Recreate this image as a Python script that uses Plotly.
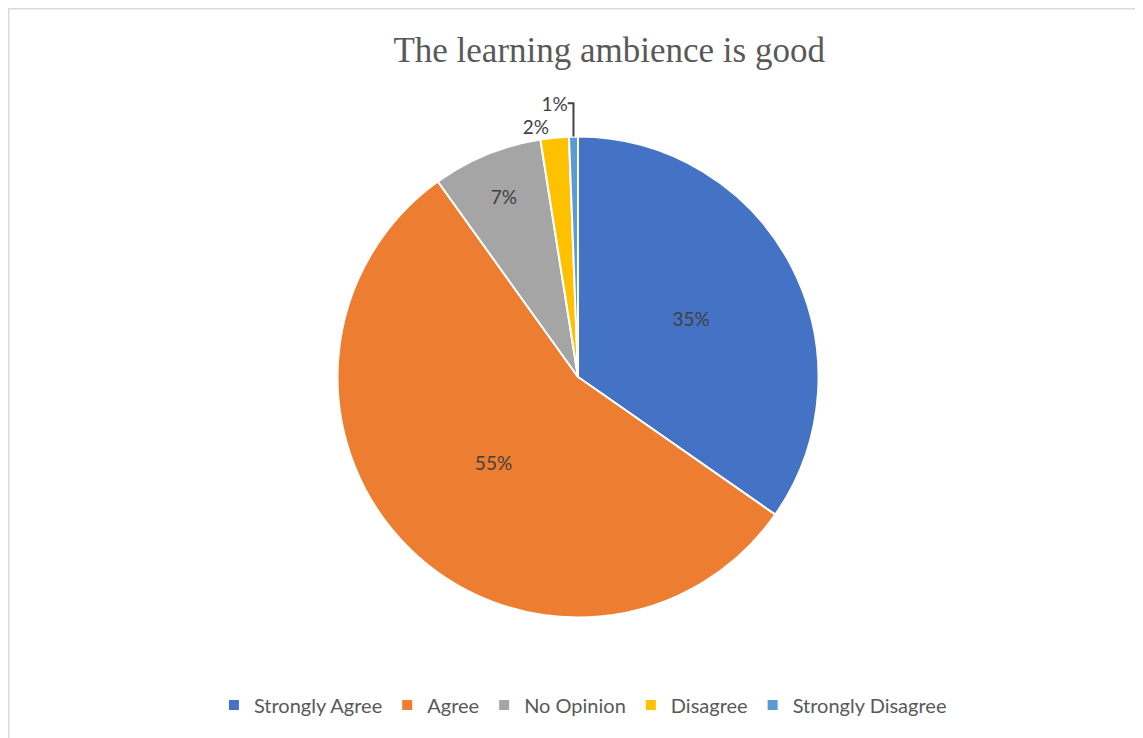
import plotly.graph_objects as go

responses = ["Strongly Agree", "Agree", "No Opinion", "Disagree", "Strongly Disagree"]
shares = [34.7, 55.4, 7.4, 1.9, 0.6]
slice_colors = ["#4472C4", "#ED7D31", "#A5A5A5", "#FFC000", "#5B9BD5"]
label_pos = ["inside", "inside", "inside", "outside", "outside"]

W, H = 1143, 738

fig = go.Figure()
fig.add_trace(go.Pie(
    labels=responses, values=shares, sort=False, direction="clockwise", rotation=0,
    marker=dict(colors=slice_colors, line=dict(color="white", width=2)),
    textinfo="percent", texttemplate="%{percent:.0%}", textposition=label_pos,
    insidetextorientation="horizontal",
    textfont=dict(family="Lato", size=19, color="#404040"),
    domain=dict(x=[0.2880, 0.7094], y=[0.1741, 0.8259]),
    hoverinfo="label+percent",
))

fig.update_layout(
    width=W, height=H, paper_bgcolor="white", plot_bgcolor="white",
    margin=dict(l=0, r=0, t=0, b=0),
    title=dict(text="The learning ambience is good", x=0.526, xanchor="center",
               y=1 - 42 / H, yanchor="middle",
               font=dict(family="Liberation Serif", size=35, color="#595959")),
    legend=dict(orientation="h", x=0.503, xanchor="center", y=1 - 697 / H, yanchor="middle",
                font=dict(family="Lato", size=20, color="#595959"), itemwidth=30),
    shapes=[dict(type="rect", xref="paper", yref="paper", x0=0.75 / W, x1=1.02,
                 y0=-0.02, y1=1 - 0.75 / H, line=dict(color="#D9D9D9", width=1.5))],
)

fig.write_html("out.html")
